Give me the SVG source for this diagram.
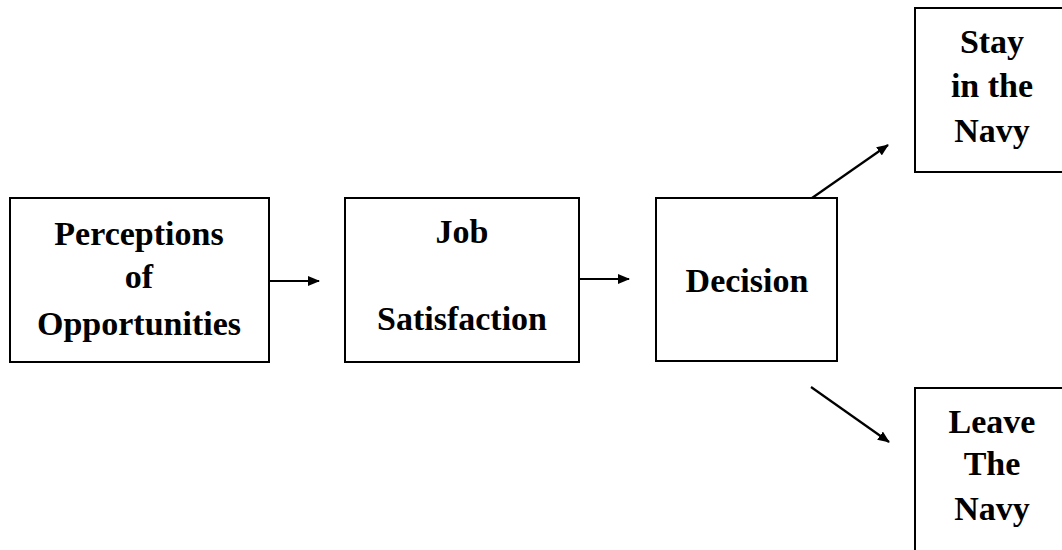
<svg xmlns="http://www.w3.org/2000/svg" width="1062" height="550" viewBox="0 0 1062 550">
<defs>
<style>
.box{fill:#fff;stroke:#000;stroke-width:2}
.t{font-family:"Liberation Serif","Times New Roman",serif;font-weight:bold;font-size:34px;fill:#000;text-anchor:middle}
.c{stroke:#000;stroke-width:2.2;fill:none}
</style>
<marker id="ah" markerWidth="12" markerHeight="10" refX="11" refY="5" orient="auto" markerUnits="userSpaceOnUse">
<path d="M0,0 L12,5 L0,10 Z" fill="#000"/>
</marker>
</defs>
<rect width="1062" height="550" fill="#fff"/>
<g id="n-perceptions">
<rect class="box" x="10" y="198" width="259" height="164"/>
<text class="t" x="139" y="245">Perceptions</text>
<text class="t" x="139" y="288">of</text>
<text class="t" x="139" y="335">Opportunities</text>
</g>
<g id="n-job">
<rect class="box" x="345" y="198" width="234" height="164"/>
<text class="t" x="462" y="243">Job</text>
<text class="t" x="462" y="330">Satisfaction</text>
</g>
<g id="n-decision">
<rect class="box" x="656" y="198" width="181" height="163"/>
<text class="t" x="747" y="292">Decision</text>
</g>
<g id="n-stay">
<rect class="box" x="915" y="8" width="155" height="164"/>
<text class="t" x="992" y="53">Stay</text>
<text class="t" x="992" y="97">in the</text>
<text class="t" x="992" y="142">Navy</text>
</g>
<g id="n-leave">
<rect class="box" x="915" y="388" width="155" height="170"/>
<text class="t" x="992" y="433">Leave</text>
<text class="t" x="992" y="475">The</text>
<text class="t" x="992" y="520">Navy</text>
</g>
<g id="connectors">
<line class="c" x1="269" y1="281" x2="319" y2="281" marker-end="url(#ah)"/>
<line class="c" x1="579" y1="279" x2="629" y2="279" marker-end="url(#ah)"/>
<line class="c" x1="812" y1="198" x2="888" y2="145" marker-end="url(#ah)"/>
<line class="c" x1="811" y1="387" x2="889" y2="442" marker-end="url(#ah)"/>
</g>
</svg>
